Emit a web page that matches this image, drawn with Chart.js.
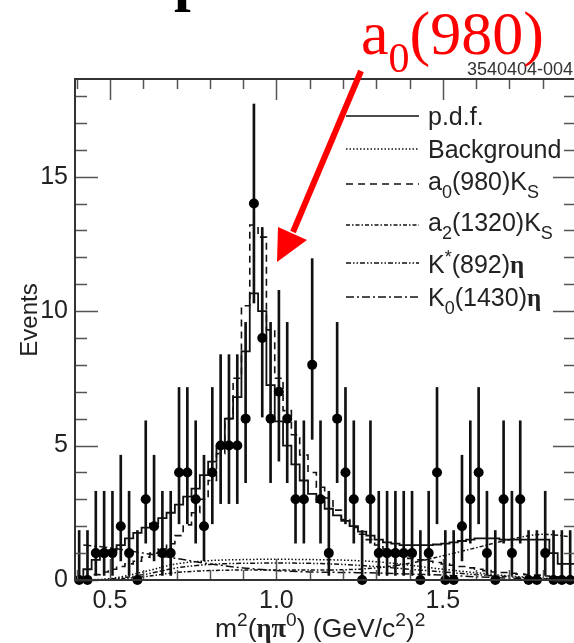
<!DOCTYPE html>
<html>
<head>
<meta charset="utf-8">
<script src="https://cdn.jsdelivr.net/npm/chart.js@4.4.1/dist/chart.umd.min.js"></script>
<style>
    html, body { margin: 0; padding: 0; background: #fff; overflow: hidden; }
    #wrap { position: relative; width: 590px; height: 643px; }
</style>
</head>
<body>
<div id="wrap"><canvas id="massChart" width="590" height="643"></canvas></div>
<script>
// Histogram binning of m^2(eta pi0), GeV^2.
var binStart = 0.395;
var binWidth = 0.025;

// Events per bin (filled dots).
var eventCounts = [0, 0, 1, 1, 1, 2, 1, 0, 3, 2,
    1, 1, 4, 4, 3, 2, 4, 5, 5, 5,
    6, 14, 9, 6, 7, 6, 3, 3, 8, 3,
    1, 6, 4, 3, 0, 3, 1, 1, 1, 1,
    1, 0, 1, 4, 0, 0, 2, 3, 4, 1,
    0, 3, 1, 3, 0, 0, 1, 0, 0, 0];

// Error bar ends, looked up by the number of events in the bin.
var errorHighByCount = { 0: 1.84, 1: 3.3, 2: 4.64, 3: 5.92, 4: 7.16, 5: 8.38, 6: 9.58, 7: 10.77, 8: 11.95, 9: 13.11, 14: 17.7 };
var errorLowByCount = { 0: 0, 1: 0.17, 2: 0.71, 3: 1.37, 4: 2.09, 5: 2.84, 6: 3.62, 7: 4.42, 8: 5.23, 9: 6.06, 14: 10.3 };

// Fit p.d.f. per bin (solid histogram).
var pdfValues = [0.05, 0.1, 0.4, 0.75, 0.95, 1.1, 1.3, 1.55, 1.75, 1.95,
    2.1, 2.3, 2.5, 2.8, 3.1, 3.4, 3.9, 4.4, 5.0, 6.0,
    6.8, 8.5, 10.66, 10.0, 7.25, 5.9, 5.0, 4.3, 3.7, 3.2,
    2.9, 2.65, 2.4, 2.2, 2.0, 1.8, 1.65, 1.5, 1.4, 1.35,
    1.3, 1.3, 1.3, 1.3, 1.32, 1.35, 1.4, 1.45, 1.5, 1.55,
    1.55, 1.55, 1.5, 1.5, 1.5, 1.5, 1.5, 1.5, 1.0, 0.6];

// a0(980)Ks component per bin (dashed histogram).
var a0Values = [0, 0, 0.1, 0.2, 0.3, 0.4, 0.5, 0.6, 0.7, 0.85,
    1.0, 1.15, 1.35, 1.65, 2.05, 2.5, 3.0, 3.7, 4.7, 6.0,
    7.5, 10.2, 13.2, 12.75, 9.3, 7.5, 6.3, 5.4, 4.65, 4.0,
    3.45, 3.05, 2.6, 2.25, 1.95, 1.7, 1.5, 1.3, 1.15, 1.0,
    0.9, 0.8, 0.75, 0.7, 0.65, 0.6, 0.55, 0.5, 0.45, 0.4,
    0.35, 0.3, 0.28, 0.25, 0.22, 0.2, 0.18, 0.15, 0.12, 0.1];

// Smooth components, sampled at these masses.
var curveMasses = [0.42, 0.5, 0.6, 0.7, 0.8, 0.9, 1.0, 1.1, 1.2, 1.3, 1.4, 1.5, 1.6, 1.7, 1.8, 1.89];
var backgroundValues = [0, 0.05, 0.3, 0.6, 0.72, 0.76, 0.77, 0.76, 0.74, 0.68, 0.55, 0.4, 0.27, 0.15, 0.07, 0.02];
var a2Values = [0, 0.02, 0.12, 0.28, 0.35, 0.37, 0.37, 0.37, 0.38, 0.45, 0.62, 0.9, 1.2, 1.5, 1.7, 1.6];
var kstarValues = [0, 0.03, 0.2, 0.45, 0.58, 0.62, 0.63, 0.62, 0.58, 0.5, 0.4, 0.3, 0.2, 0.12, 0.05, 0.01];
var k0Values = [1.3, 1.2, 1.0, 0.8, 0.6, 0.45, 0.35, 0.3, 0.28, 0.26, 0.22, 0.18, 0.12, 0.07, 0.03, 0.01];

// Axis ranges and labelled ticks.
var xRange = [0.395, 1.9];
var yRange = [0, 18.63];
var xTickValues = [0.5, 1.0, 1.5];
var yTickValues = [0, 5, 10, 15];

var sansFont = "'Liberation Sans', Arial, sans-serif";
var serifFont = "'Liberation Serif', 'Times New Roman', serif";

function binCentre(i) {
    return binStart + binWidth * (i + 0.5);
}

//Build step points at the bin edges so the line reads as a histogram.
function histogramPoints(values) {
    var points = [];
    values.forEach(function (value, i) {
        points.push({ x: binStart + binWidth * i, y: value });
    });
    points.push({ x: binStart + binWidth * values.length, y: values[values.length - 1] });
    return points;
}

function curvePoints(values) {
    return curveMasses.map(function (mass, i) {
        return { x: mass, y: values[i] };
    });
}

//Draw a run of text pieces, some of them raised, lowered or bold.
function drawRichText(ctx, parts, x, y, size) {
    parts.forEach(function (part) {
        var fontSize = size;
        var dy = 0;
        if (part.sub) { fontSize = size * 0.72; dy = size * 0.3; }
        if (part.sup) { fontSize = size * 0.72; dy = -size * 0.42; }
        var family = part.serif ? serifFont : sansFont;
        ctx.font = (part.bold ? 'bold ' : '') + fontSize + 'px ' + family;
        ctx.fillText(part.t, x, y + dy);
        x += ctx.measureText(part.t).width;
    });
    return x;
}

var legendEntries = [
    { parts: [{ t: 'p.d.f.' }], dash: [], lineY: 116, textY: 125 },
    { parts: [{ t: 'Background' }], dash: [1.5, 2], lineY: 149, textY: 158 },
    { parts: [{ t: 'a' }, { t: '0', sub: true }, { t: '(980)K' }, { t: 'S', sub: true }], dash: [7, 5], lineY: 184, textY: 190 },
    { parts: [{ t: 'a' }, { t: '2', sub: true }, { t: '(1320)K' }, { t: 'S', sub: true }], dash: [4, 2, 1.5, 2], lineY: 225, textY: 231 },
    { parts: [{ t: 'K' }, { t: '*', sup: true }, { t: '(892)' }, { t: '\u03b7', bold: true, serif: true }], dash: [5, 2, 1.5, 2, 1.5, 2], lineY: 263, textY: 273 },
    { parts: [{ t: 'K' }, { t: '0', sub: true }, { t: '(1430)' }, { t: '\u03b7', bold: true, serif: true }], dash: [8, 3, 2, 3], lineY: 297, textY: 306 }
];

//Frame with inward ticks on all four sides.
var framePlugin = {
    id: 'frame',
    afterDatasetsDraw: function (chart) {
        var ctx = chart.ctx;
        var area = chart.chartArea;
        var xScale = chart.scales.x;
        var yScale = chart.scales.y;
        ctx.save();
        ctx.strokeStyle = '#555';
        ctx.lineWidth = 1.5;
        ctx.beginPath();
        for (var v = 0; v <= 18; v++) {
            var py = Math.round(yScale.getPixelForValue(v)) + 0.5;
            var len = (v % 5 === 0) ? 23 : 12;
            ctx.moveTo(area.left, py); ctx.lineTo(area.left + len, py);
            ctx.moveTo(area.right, py); ctx.lineTo(area.right - len, py);
        }
        for (var k = 4; k <= 19; k++) {
            var px = Math.round(xScale.getPixelForValue(k / 10)) + 0.5;
            var lenX = (k % 5 === 0) ? 21 : 10;
            ctx.moveTo(px, area.top); ctx.lineTo(px, area.top + lenX);
            ctx.moveTo(px, area.bottom); ctx.lineTo(px, area.bottom - lenX);
        }
        ctx.stroke();
        ctx.strokeStyle = '#333';
        ctx.lineWidth = 2;
        ctx.strokeRect(area.left, area.top, area.right - area.left, area.bottom - area.top);
        ctx.restore();
    }
};

//Legend box, axis titles and the red a0(980) arrow.
var labelsPlugin = {
    id: 'labels',
    afterDraw: function (chart) {
        var ctx = chart.ctx;
        ctx.save();
        ctx.fillStyle = '#222';
        ctx.textBaseline = 'alphabetic';
        ctx.textAlign = 'left';

        legendEntries.forEach(function (entry) {
            ctx.strokeStyle = '#111';
            ctx.lineWidth = 1.5;
            ctx.setLineDash(entry.dash);
            ctx.beginPath();
            ctx.moveTo(346, entry.lineY);
            ctx.lineTo(419, entry.lineY);
            ctx.stroke();
            ctx.setLineDash([]);
            drawRichText(ctx, entry.parts, 428, entry.textY, 25);
        });

        // x axis title
        drawRichText(ctx, [
            { t: 'm' }, { t: '2', sup: true }, { t: '(' },
            { t: '\u03b7\u03c0', bold: true, serif: true }, { t: '0', sup: true },
            { t: ') (GeV/c' }, { t: '2', sup: true }, { t: ')' }, { t: '2', sup: true }
        ], 215, 637, 26.5);

        // y axis title
        ctx.save();
        ctx.translate(37, 320);
        ctx.rotate(-Math.PI / 2);
        ctx.textAlign = 'center';
        ctx.font = '24px ' + sansFont;
        ctx.fillText('Events', 0, 0);
        ctx.restore();

        // plot number
        ctx.fillStyle = '#333';
        ctx.textAlign = 'right';
        ctx.font = '18px ' + sansFont;
        ctx.fillText('3540404-004', 573, 75);

        // cut-off letter from the page above
        ctx.fillStyle = '#000';
        ctx.textAlign = 'left';
        ctx.font = 'bold 60px ' + serifFont;
        ctx.fillText('p', 174, -1);

        // red annotation
        ctx.fillStyle = '#ff0000';
        ctx.strokeStyle = '#ff0000';
        var x = 361;
        ctx.font = '62px ' + serifFont;
        ctx.fillText('a', x, 54);
        x += ctx.measureText('a').width;
        ctx.font = '42px ' + serifFont;
        ctx.fillText('0', x, 72);
        x += ctx.measureText('0').width;
        ctx.font = '62px ' + serifFont;
        ctx.fillText('(980)', x, 54);

        ctx.lineWidth = 6;
        ctx.beginPath();
        ctx.moveTo(361, 71);
        ctx.lineTo(293, 232);
        ctx.stroke();
        ctx.beginPath();
        ctx.moveTo(277, 262);
        ctx.lineTo(278, 227);
        ctx.lineTo(307, 240);
        ctx.closePath();
        ctx.fill();
        ctx.restore();
    }
};

function GenerateMassChart() {
    var chartControl = document.getElementById('massChart');

    var dotPoints = eventCounts.map(function (n, i) {
        return { x: binCentre(i), y: n };
    });

    var errorPoints = eventCounts.map(function (n, i) {
        return { x: binCentre(i), y: [errorLowByCount[n], errorHighByCount[n]] };
    });

    var massChart = new Chart(chartControl, {
        type: 'line',
        data: {
            datasets: [
                {
                    type: 'scatter',
                    data: dotPoints,
                    pointRadius: 5,
                    pointBackgroundColor: '#000',
                    pointBorderWidth: 0,
                    clip: false,
                    order: 0
                },
                {
                    type: 'bar',
                    data: errorPoints,
                    backgroundColor: '#111',
                    barThickness: 2,
                    clip: false,
                    order: 1
                },
                {
                    data: histogramPoints(pdfValues),
                    stepped: 'after',
                    borderColor: '#111',
                    borderWidth: 1.8,
                    pointRadius: 0,
                    order: 2
                },
                {
                    data: histogramPoints(a0Values),
                    stepped: 'after',
                    borderColor: '#111',
                    borderWidth: 1.6,
                    borderDash: [7, 5],
                    pointRadius: 0,
                    order: 3
                },
                {
                    data: curvePoints(backgroundValues),
                    cubicInterpolationMode: 'monotone',
                    borderColor: '#111',
                    borderWidth: 1.5,
                    borderDash: [1.5, 2],
                    pointRadius: 0,
                    order: 4
                },
                {
                    data: curvePoints(a2Values),
                    cubicInterpolationMode: 'monotone',
                    borderColor: '#111',
                    borderWidth: 1.5,
                    borderDash: [4, 2, 1.5, 2],
                    pointRadius: 0,
                    order: 4
                },
                {
                    data: curvePoints(kstarValues),
                    cubicInterpolationMode: 'monotone',
                    borderColor: '#111',
                    borderWidth: 1.5,
                    borderDash: [5, 2, 1.5, 2, 1.5, 2],
                    pointRadius: 0,
                    order: 4
                },
                {
                    data: curvePoints(k0Values),
                    cubicInterpolationMode: 'monotone',
                    borderColor: '#111',
                    borderWidth: 1.5,
                    borderDash: [8, 3, 2, 3],
                    pointRadius: 0,
                    order: 4
                }
            ]
        },
        options: {
            responsive: false,
            animation: false,
            devicePixelRatio: 1,
            layout: {
                padding: { top: 79, right: 14, left: 0, bottom: 0 }
            },
            scales: {
                x: {
                    type: 'linear',
                    min: xRange[0],
                    max: xRange[1],
                    offset: false,
                    grid: { display: false, drawTicks: false, offset: false },
                    border: { display: false },
                    afterBuildTicks: function (scale) {
                        scale.ticks = xTickValues.map(function (v) { return { value: v }; });
                    },
                    afterFit: function (scale) {
                        scale.height = 63;
                    },
                    ticks: {
                        padding: 6,
                        color: '#222',
                        font: { family: sansFont, size: 25 },
                        maxRotation: 0,
                        callback: function (value) { return value.toFixed(1); }
                    }
                },
                y: {
                    type: 'linear',
                    min: yRange[0],
                    max: yRange[1],
                    grid: { display: false, drawTicks: false },
                    border: { display: false },
                    afterBuildTicks: function (scale) {
                        scale.ticks = yTickValues.map(function (v) { return { value: v }; });
                    },
                    afterFit: function (scale) {
                        scale.width = 75;
                    },
                    ticks: {
                        padding: 7,
                        color: '#222',
                        font: { family: sansFont, size: 25 },
                        callback: function (value) { return String(value); }
                    }
                }
            },
            plugins: {
                legend: { display: false },
                tooltip: { enabled: false }
            }
        },
        plugins: [framePlugin, labelsPlugin]
    });
}

GenerateMassChart();
</script>
</body>
</html>
